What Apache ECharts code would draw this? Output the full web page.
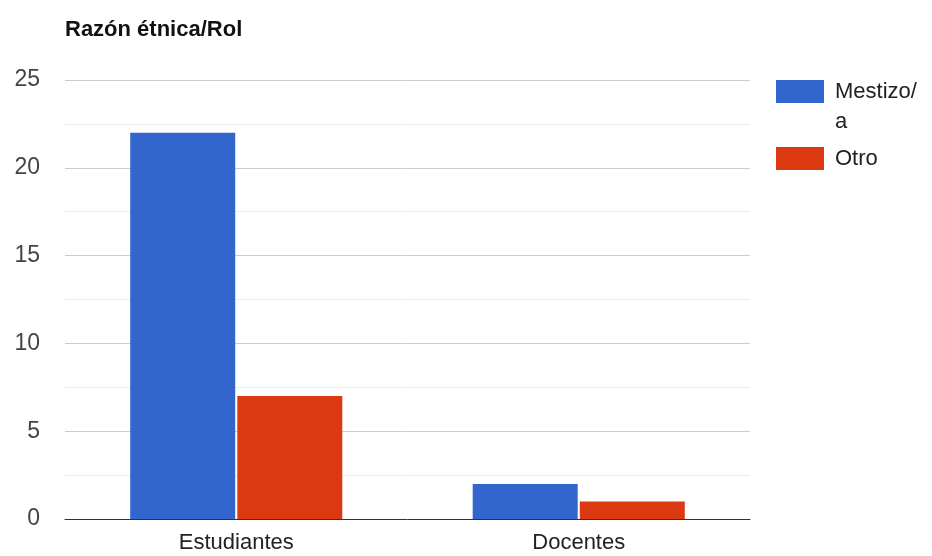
<!DOCTYPE html>
<html><head><meta charset="utf-8">
<script src="https://cdn.jsdelivr.net/npm/echarts@6/dist/echarts.min.js"></script>
<style>html,body{margin:0;padding:0;background:#fff}#c{width:932px;height:556px}</style>
</head><body><div id="c"></div>
<script>
const categories = ['Estudiantes', 'Docentes'];
const mestizoValues = [22, 2];
const otroValues = [7, 1];
const seriesNames = ['Mestizo/a', 'Otro'];
const titleText = 'Razón étnica/Rol';

const chart = echarts.init(document.getElementById('c'));
const font = '"Liberation Sans", Arial, sans-serif';
chart.setOption({
  animation: false,
  title: {text: titleText, left: 60, top: 14, padding: 5,
    textStyle: {fontFamily: font, fontSize: 22, fontWeight: 'bold', color: '#111'}},
  legend: [
    {data: [seriesNames[0]], orient: 'vertical', left: 776, top: 46.5, padding: 0,
     itemWidth: 48, itemHeight: 23, icon: 'rect',
     formatter: n => ' \n' + n.replace('/', '/\n'),
     textStyle: {fontFamily: font, fontSize: 22, color: '#222', lineHeight: 30, padding: [0, 0, 0, 6]}},
    {data: [seriesNames[1]], orient: 'vertical', left: 776, top: 147, padding: 0,
     itemWidth: 48, itemHeight: 23, icon: 'rect',
     textStyle: {fontFamily: font, fontSize: 22, color: '#222', lineHeight: 22, padding: [0, 0, 0, 6]}}
  ],
  grid: {left: 65, right: 182, top: 80, bottom: 37},
  xAxis: {type: 'category', data: categories,
    axisLine: {lineStyle: {color: '#333', width: 1}}, axisTick: {show: false},
    axisLabel: {fontFamily: font, fontSize: 22, color: '#222', margin: 13}},
  yAxis: {type: 'value', min: 0, max: 25, interval: 5,
    axisLine: {show: false}, axisTick: {show: false},
    axisLabel: {fontFamily: font, fontSize: 23, color: '#444', margin: 25},
    splitLine: {lineStyle: {color: '#ccc'}},
    minorTick: {show: false, splitNumber: 2},
    minorSplitLine: {show: true, lineStyle: {color: '#ebebeb'}}},
  series: [
    {name: seriesNames[0], type: 'bar', data: mestizoValues, barWidth: 105, barGap: '2%',
     itemStyle: {color: '#3366cc'}},
    {name: seriesNames[1], type: 'bar', data: otroValues, barWidth: 105,
     itemStyle: {color: '#dc3912'}}
  ]
});
</script></body></html>
